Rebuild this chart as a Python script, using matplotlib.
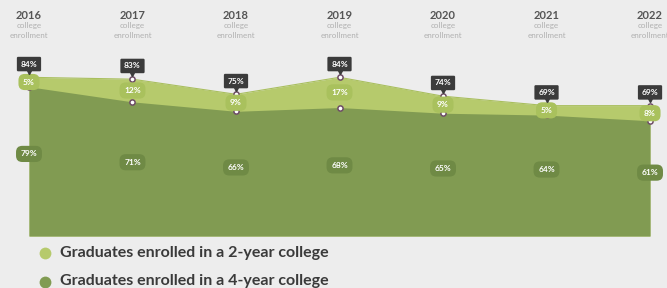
import numpy as np
import matplotlib.pyplot as plt

years = ["2016", "2017", "2018", "2019", "2020", "2021", "2022"]
four_year = [79, 71, 66, 68, 65, 64, 61]
two_year = [5, 12, 9, 17, 9, 5, 8]
total = [84, 83, 75, 84, 74, 69, 69]

BG = "#ededed"
LIGHT = "#b6ca6c"
LIGHT_PILL = "#a9c15d"
DARK = "#819b52"
DARK_PILL = "#6f8a45"
BOX = "#3b3b3b"
EDGE = "#6e4d66"

plt.rcParams['font.family'] = ['Lato', 'DejaVu Sans']

fig = plt.figure(figsize=(6.67, 2.88), dpi=100)
fig.patch.set_facecolor(BG)
ax = fig.add_axes([0, 0, 1, 1])
ax.set_facecolor(BG)
ax.set_xlim(-0.280, 6.164)
ax.set_ylim(-27.5, 124.9)
ax.axis("off")

x = np.arange(len(years))
four = np.array(four_year)
tot = np.array(total)

ax.fill_between(x, 0, tot, color=LIGHT, lw=0, zorder=1)
ax.fill_between(x, 0, four, color=DARK, lw=0, zorder=2)
ax.plot(x, tot, color="#a9bf5e", lw=0.8, zorder=2)

# markers
ax.scatter(x, tot, s=14, facecolor="white", edgecolor=EDGE, lw=1.1, zorder=4)
ax.scatter(x, four, s=14, facecolor="white", edgecolor=EDGE, lw=1.1, zorder=4)

for i, yr in enumerate(years):
    # header
    ax.text(i, 116.9, yr, ha="center", va="center", fontsize=8,
            fontweight="bold", color="#555555")
    ax.text(i, 111.4, "college", ha="center", va="center", fontsize=5.8,
            color="#b0b0b0")
    ax.text(i, 106.1, "enrollment", ha="center", va="center", fontsize=5.8,
            color="#b0b0b0")

    # total box with pointer
    ax.text(i, tot[i] + 7.0, f"{total[i]}%", ha="center", va="center",
            fontsize=6, fontweight="bold", color="white", zorder=6,
            bbox=dict(boxstyle="round,pad=0.45,rounding_size=0.15",
                      fc=BOX, ec="none"))
    ax.plot(i, tot[i] + 3.0, marker="v", ms=3, color=BOX, zorder=6)

    # two-year pill
    mid = (tot[i] + four[i]) / 2
    ax.text(i, mid, f"{two_year[i]}%", ha="center", va="center",
            fontsize=6, fontweight="bold", color="white", zorder=5,
            bbox=dict(boxstyle="round,pad=0.55,rounding_size=0.75",
                      fc=LIGHT_PILL, ec="none"))

    # four-year pill
    ax.text(i, four[i] * 0.55, f"{four_year[i]}%", ha="center", va="center",
            fontsize=6, fontweight="bold", color="white", zorder=5,
            bbox=dict(boxstyle="round,pad=0.55,rounding_size=0.75",
                      fc=DARK_PILL, ec="none"))

# legend
leg = [("Graduates enrolled in a 2-year college", LIGHT),
       ("Graduates enrolled in a 4-year college", DARK)]
for k, (label, col) in enumerate(leg):
    yp = (288 - (253 + 28.5 * k)) / 288
    ax.plot([45 / 667], [yp], marker="o", ms=8.5, color=col, mec="none",
            transform=fig.transFigure, clip_on=False)
    fig.text(60 / 667, yp, label, color="#3a3a3a", fontsize=11.5,
             fontweight="bold", ha="left", va="center")

fig.savefig("out.png", dpi=100, facecolor=BG)
